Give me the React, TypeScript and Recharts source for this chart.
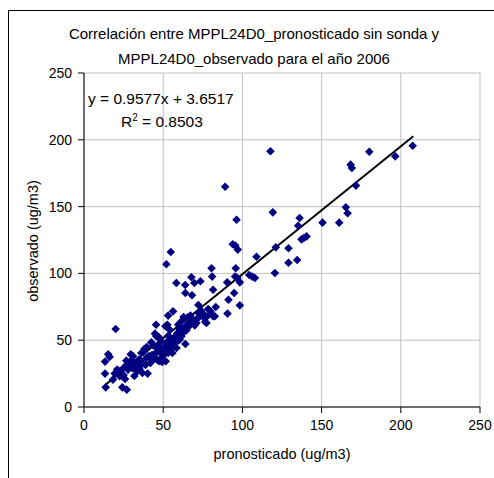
import { ScatterChart, Scatter, XAxis, YAxis, CartesianGrid, ReferenceLine } from "recharts";

// valores (ug/m3)
const pronosticado = [
  117.7, 89.1, 180.1, 196.5, 207.5, 168.3, 169.1, 171.7, 165.3, 166.4,
  161.1, 150.6, 136.1, 135.2, 137.3, 138.8, 140.5, 119.2, 96.3, 121.1,
  129.1, 129.1, 134.6, 120.5, 108.9, 104.3, 106.2, 107.9, 93.9, 95.5,
  97.1, 95.8, 95.4, 96.8, 90.4, 98.4, 94.8, 91.2, 98.4, 90.6,
  54.8, 52.0, 58.3, 64.0, 67.8, 63.9, 69.7, 73.5, 80.5, 80.9,
  81.5, 68.2, 83.2, 72.2, 56.2, 53.1, 20.0, 45.5,
  13.7, 13.3, 13.3, 15.3, 16.2, 27.0, 24.2, 25.9, 20.9, 22.5,
  19.4, 25.0, 26.7, 29.5, 31.0, 31.8, 27.8, 33.5, 35.2, 33.1,
  36.9, 40.2, 38.8, 36.2, 38.1, 39.6, 41.5, 41.9, 43.6, 45.3,
  45.7, 44.8, 47.2, 48.6, 47.4, 48.8, 50.3, 51.4, 52.0, 51.4,
  52.6, 54.1, 51.6, 53.1, 54.5, 55.8, 56.9, 56.2, 58.4, 57.7,
  59.4, 60.4, 61.5, 61.5, 64.0, 64.7, 65.1, 65.7, 67.2, 68.5,
  69.9, 71.0, 72.2, 73.7, 74.8, 76.5, 77.8, 78.4, 79.9, 81.5,
  82.6, 42.5, 44.0, 46.1, 47.7, 49.4, 46.1, 49.3, 30.1, 32.0,
  34.5, 22.5, 18.3, 55.2, 60.4, 62.5, 62.9, 53.3, 39.4, 77.3,
  70.5, 66.0, 58.8, 50.0, 43.0, 37.5, 28.5, 23.5, 30.5, 35.0,
  40.8, 44.5, 48.0, 50.8, 53.8, 57.0, 59.8, 63.2, 66.8, 71.5,
  75.5, 36.0, 32.8, 29.2, 26.0, 47.0, 54.0, 61.0,
];
const observado = [
  191.4, 164.9, 191.1, 187.6, 195.6, 181.4, 178.9, 165.7, 149.5, 145.0,
  138.0, 138.0, 141.5, 135.7, 125.5, 126.5, 127.7, 145.7, 140.2, 119.5,
  118.8, 108.0, 110.0, 100.3, 112.5, 98.8, 97.6, 96.6, 121.8, 120.8,
  117.8, 103.8, 97.6, 96.6, 93.3, 93.3, 85.3, 80.3, 76.1, 69.9,
  116.0, 106.8, 92.8, 85.3, 97.1, 91.3, 92.8, 94.1, 103.8, 97.6,
  87.8, 83.6, 74.9, 76.3, 71.6, 68.4, 58.4, 61.6,
  14.7, 25.0, 34.0, 39.4, 37.4, 13.0, 14.7, 21.0, 28.0, 26.7,
  25.0, 24.0, 34.7, 39.4, 38.0, 23.2, 28.0, 26.7, 30.4, 33.0,
  25.4, 25.0, 31.4, 40.4, 43.4, 44.9, 37.9, 32.9, 35.4, 40.4,
  52.9, 54.9, 52.4, 49.2, 34.2, 36.7, 42.9, 45.4, 48.4, 60.4,
  61.6, 57.9, 34.2, 40.4, 43.4, 40.4, 46.7, 49.2, 44.2, 47.9,
  61.6, 58.4, 64.1, 52.9, 47.2, 57.4, 61.6, 67.4, 68.4, 65.4,
  61.1, 62.9, 70.4, 72.4, 67.9, 63.9, 67.9, 73.4, 71.6, 67.9,
  67.9, 48.4, 45.9, 45.4, 45.9, 39.2, 35.4, 33.7, 34.9, 31.7,
  35.4, 23.0, 20.5, 50.4, 50.4, 55.4, 67.4, 53.4, 36.7, 62.9,
  65.0, 63.0, 55.0, 38.5, 39.0, 41.0, 30.0, 27.5, 29.0, 28.5,
  38.0, 37.0, 41.5, 44.0, 47.0, 52.0, 56.0, 59.0, 61.0, 66.0,
  69.5, 34.5, 29.5, 31.5, 30.5, 43.0, 52.5, 60.0,
];
const axisTicks = [0, 50, 100, 150, 200, 250];
// extremos de la linea de tendencia
const trendX = [13.3, 207.9];
const trendY = [16.4, 202.7];

const points = pronosticado.map((x, i) => ({ x, y: observado[i] }));

const font = '"Liberation Sans", Arial, sans-serif';

const Diamond = (props: any) => {
  const { cx, cy } = props;
  const r = 4.3;
  return (
    <path
      d={`M${cx},${cy - r}L${cx + r},${cy}L${cx},${cy + r}L${cx - r},${cy}Z`}
      fill="#000080"
    />
  );
};

export default function App() {
  return (
    <div style={{ position: "absolute", left: 0, top: 0, width: 494, height: 478, background: "#fff", fontFamily: font, color: "#000", overflow: "hidden" }}>
      <div style={{ position: "absolute", left: 8, top: 10, width: 500, height: 500, borderTop: "1px solid #000", borderLeft: "1px solid #000" }} />
      <div style={{ position: "absolute", left: 0, width: 508, top: 21, textAlign: "center", fontSize: 15, lineHeight: "25px" }}>
        Correlación entre MPPL24D0_pronosticado sin sonda y
        <br />
        MPPL24D0_observado para el año 2006
      </div>
      <ScatterChart
        width={494}
        height={478}
        margin={{ top: 73, right: 14, bottom: 31, left: 24 }}
      >
        <CartesianGrid stroke="#c0c0c0" />
        <XAxis
          type="number"
          dataKey="x"
          domain={[0, 250]}
          ticks={axisTicks}
          height={40}
          stroke="#000"
          tickMargin={7}
          tick={{ fill: "#000", fontSize: 14, fontFamily: font }}
        />
        <YAxis
          type="number"
          dataKey="y"
          domain={[0, 250]}
          ticks={axisTicks}
          width={60}
          stroke="#000"
          tickMargin={6}
          tick={{ fill: "#000", fontSize: 14, fontFamily: font }}
        />
        <Scatter data={points} shape={Diamond} isAnimationActive={false} />
        <ReferenceLine
          segment={[
            { x: trendX[0], y: trendY[0] },
            { x: trendX[1], y: trendY[1] },
          ]}
          stroke="#000"
          strokeWidth={2}
        />
      </ScatterChart>
      <div style={{ position: "absolute", left: 0, width: 564, top: 446, textAlign: "center", fontSize: 14.5 }}>
        pronosticado (ug/m3)
      </div>
      <div style={{ position: "absolute", left: 33, top: 242, width: 0, height: 0 }}>
        <div style={{ position: "absolute", left: -100, top: -9, width: 200, textAlign: "center", fontSize: 14.5, transform: "rotate(-90deg)" }}>
          observado (ug/m3)
        </div>
      </div>
      <div style={{ position: "absolute", left: 88, top: 90, fontSize: 15.5, whiteSpace: "nowrap" }}>
        y = 0.9577x + 3.6517
      </div>
      <div style={{ position: "absolute", left: 121, top: 112, fontSize: 15.5, whiteSpace: "nowrap" }}>
        R<sup style={{ fontSize: 10 }}>2</sup> = 0.8503
      </div>
    </div>
  );
}
